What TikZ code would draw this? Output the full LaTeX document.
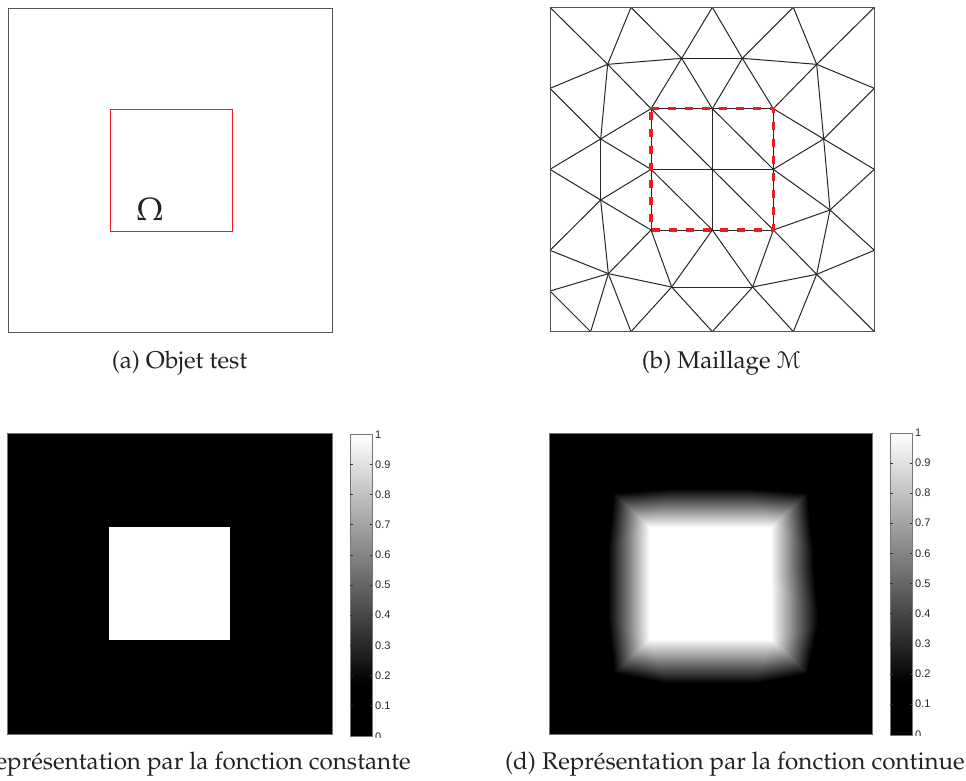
\documentclass[tikz,border=0pt]{standalone}
\usepackage[T1]{fontenc}
\usepackage{fontspec}
\usepackage{mathpazo}
\usepackage{eucal}
\usepackage{xcolor}
\usetikzlibrary{positioning,calc}
\newfontfamily\barfont{Liberation Sans}
\definecolor{DomainRed}{HTML}{ED1C24}
\definecolor{FrameGrey}{HTML}{555555}
\definecolor{InkGrey}{HTML}{222222}
\newcommand{\Capt}{\fontencoding{T1}\fontfamily{ppl}\fontsize{24.2}{29}\selectfont}
\tikzset{
  panel/.style={draw=FrameGrey, line width=1pt, inner sep=0pt, outer sep=0pt, anchor=north west},
  image/.style={panel, fill=black, draw=FrameGrey!80},
  capt/.style={font=\Capt, text=InkGrey, inner sep=0pt, text height=14pt, text depth=5pt},
  meshedge/.style={draw=black!85, line width=1pt},
  domainline/.style={draw=DomainRed, line width=1pt},
  domaindash/.style={draw=DomainRed, line width=3.4pt, dash pattern=on 8pt off 9pt},
  bartick/.style={draw=black!80, line width=0.7pt},
  barlabel/.style={font=\barfont\fontsize{11}{11}\selectfont, text=black!85, inner sep=0pt, anchor=west},
}
\newcommand{\meshnodes}{T0/30/22,T1/273/22,T2/517/22,T3/760/22,T4/1003/22,
  L1/30/265,L2/30/508,L3/30/751,L4/30/873,R1/1003/265,R2/1003/508,R3/1003/751,
  B0/30/995,B1/152/995,B2/273/995,B3/517/995,B4/760/995,B5/1003/995,
  ra/203/193,rc/425/175,rd/607/175,re/830/193,rf/851/417,rg/870/630,
  rh/830/823,ri/638/861,rj/395/861,rk/205/821,rl/182/600,rm/182/417,
  s1/333/326,s2/517/326,s3/700/326,s4/333/508,s5/517/508,s6/700/508,
  s7/333/690,s8/517/690,s9/700/690}
\newcommand{\colorbar}[2]{% left edge, top edge
  \begin{scope}[shift={(#1,#2)}]
    \fill[black] (0,0) rectangle (22,302);
    \shade[top color=white, bottom color=black] (0,0) rectangle (22,249.5);
    \draw[FrameGrey!80, line width=1pt] (0,0) rectangle (22,302);
    \foreach \ty in {30,60,90,120.5,150.5,180.5,211,241,271}{
      \draw[bartick] (0,\ty) -- (2.5,\ty);
      \draw[bartick] (22,\ty) -- (19.5,\ty);
    }
    \foreach \lab/\ty in {1/0,0.9/30,0.8/60,0.7/90,0.6/120.5,0.5/150.5,0.4/180.5,0.3/211,0.2/241,0.1/271}
      \node[barlabel] at (25,\ty) {\lab};
    \begin{scope}
      \clip (23,297) rectangle (40,302.5);
      \node[barlabel] at (25,302) {0};
    \end{scope}
  \end{scope}
}

\begin{document}
\begin{tikzpicture}[x=1pt, y=-1pt]
  \useasboundingbox (0,0) rectangle (966,780);
  % (a) test object
  \node[panel, minimum width=324pt, minimum height=324pt] (objet) at (8.5,8) {};
  \node[domainline, draw, inner sep=0pt, minimum width=122pt, minimum height=122pt, anchor=north west] (omega) at (110,109) {};
  \node[font=\fontencoding{T1}\fontfamily{ppl}\fontsize{32}{36}\selectfont, text=InkGrey, inner sep=0pt, anchor=base] (omegalab) at (150,220.7) {$\Omega$};
  \node[capt, below=22.5pt of objet, xshift=9pt] (capta) {(a) Objet test};

  % (b) mesh
  \begin{scope}[shift={(540,0)}, x=0.33333pt, y=-0.33333pt]
    \foreach \n/\px/\py in \meshnodes
      \coordinate (\n) at (\px,\py);
    \foreach \p/\q in {ra/T0,ra/T1,rc/T1,rc/T2,rd/T2,rd/T3,re/T3,re/T4,
        ra/L1,rm/L1,rm/L2,rl/L2,rl/L3,rk/L3,rk/L4,rk/B1,L4/B1,rk/B2,rj/B2,rj/B3,ri/B3,ri/B4,rh/B4,rh/B5,
        rh/R3,rg/R3,rg/R2,rf/R2,rf/R1,re/R1,
        ra/rc,rc/rd,rd/re,re/rf,rf/rg,rg/rh,rh/ri,ri/rj,rj/rk,rk/rl,rl/rm,rm/ra,
        ra/s1,rc/s1,rc/s2,rd/s2,rd/s3,re/s3,rf/s3,rf/s6,rg/s6,rg/s9,rh/s9,ri/s9,ri/s8,rj/s8,rj/s7,rk/s7,rl/s7,rl/s4,rm/s4,rm/s1,
        s1/s2,s2/s3,s4/s5,s5/s6,s7/s8,s8/s9,s1/s4,s4/s7,s2/s5,s5/s8,s3/s6,s6/s9,s1/s5,s2/s6,s4/s8,s5/s9}
      \draw[meshedge] (\p) -- (\q);
    \draw[draw=FrameGrey, line width=1pt] (T0) -- (T4) -- (B5) -- (B0) -- cycle;
    \draw[domaindash] (s1) -- (s3) -- (s9) -- (s7) -- cycle;
  \end{scope}
  \node[capt, anchor=north west] (captb) at (641.7,354.5) {(b) Maillage $\mathcal{M}$};

  % (c) constant function
  \node[image, minimum width=325pt, minimum height=301pt] (constimg) at (7.3,433.3) {};
  \node[fill=white, inner sep=0pt, minimum width=121.7pt, minimum height=113.7pt, anchor=north west] (constsq) at (108.3,526.3) {};
  \colorbar{350}{434.5}
  \node[capt, anchor=north east] (captc) at (411,755.5) {(c) Représentation par la fonction constante};

  % (d) continuous function
  \node[image, minimum width=323.3pt, minimum height=301pt] (contimg) at (549,433.3) {};
  \begin{scope}[shift={(549,433.33)}, x=0.3323pt, y=-0.3093pt]
    \foreach \n/\px/\py in \meshnodes
      \coordinate (d\n) at (\px-30,\py-22);
  \end{scope}
  \foreach \lev in {0.16,0.18,...,1.0}{
    \pgfmathsetmacro{\levpc}{max(0,100*(1-(\lev-0.16)/0.84))}
    \fill[black!\levpc!white] ($(dra)!\lev!(ds1)$)
      \foreach \r/\s in {rc/s1,rc/s2,rd/s2,rd/s3,re/s3,rf/s3,rf/s6,rg/s6,rg/s9,rh/s9,ri/s9,ri/s8,rj/s8,rj/s7,rk/s7,rl/s7,rl/s4,rm/s4,rm/s1}
        { -- ($(d\r)!\lev!(d\s)$) } -- cycle;
  }
  \colorbar{890}{433}
  \node[capt, anchor=north east] (captd) at (965,755.5) {(d) Représentation par la fonction continue};
\end{tikzpicture}
\end{document}
